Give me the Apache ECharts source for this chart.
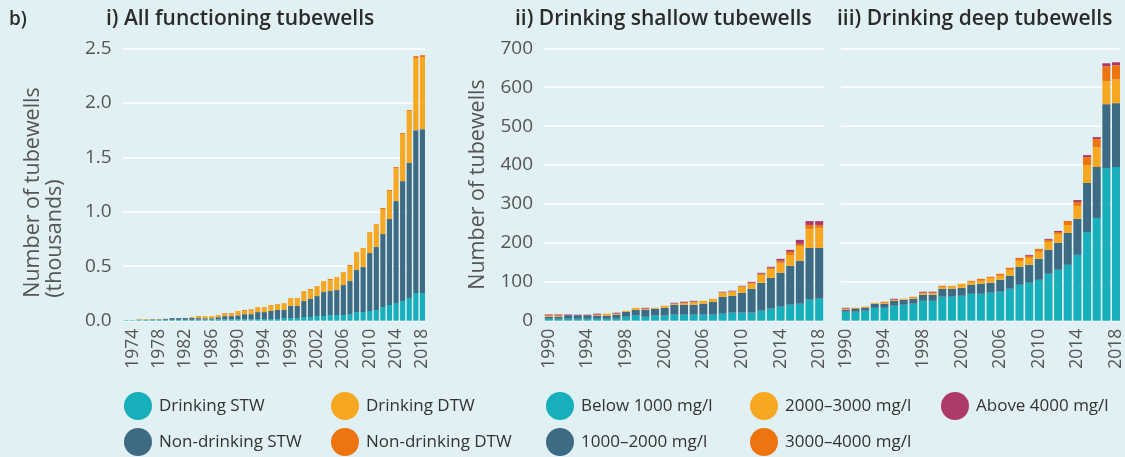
<!DOCTYPE html>
<html>
<head>
<meta charset="utf-8">
<script src="https://cdn.jsdelivr.net/npm/echarts@6/dist/echarts.min.js"></script>
<style>
html,body{margin:0;padding:0;background:#E1F0F3;}
#c{width:1125px;height:457px;}
</style>
</head>
<body>
<div id="c"></div>
<script>
// ---------- DATA ----------
const yearsAll = ['1973','1974','1975','1976','1977','1978','1979','1980','1981','1982','1983','1984','1985','1986','1987','1988','1989','1990','1991','1992','1993','1994','1995','1996','1997','1998','1999','2000','2001','2002','2003','2004','2005','2006','2007','2008','2009','2010','2011','2012','2013','2014','2015','2016','2017','2018'];
// thousands of tubewells
const drinkingSTW    = [0.005,0.005,0.008,0.008,0.008,0.008,0.008,0.008,0.008,0.008,0.008,0.010,0.010,0.010,0.012,0.012,0.012,0.014,0.014,0.014,0.015,0.015,0.015,0.015,0.024,0.024,0.024,0.034,0.034,0.043,0.043,0.052,0.052,0.052,0.061,0.080,0.080,0.089,0.098,0.125,0.144,0.162,0.180,0.208,0.254,0.254];
const nonDrinkingSTW = [0,0,0.002,0.002,0.005,0.005,0.008,0.016,0.016,0.016,0.016,0.014,0.012,0.012,0.020,0.030,0.030,0.035,0.046,0.046,0.064,0.064,0.075,0.083,0.074,0.111,0.111,0.146,0.165,0.183,0.220,0.220,0.229,0.275,0.303,0.385,0.412,0.532,0.578,0.670,0.789,0.936,1.101,1.239,1.495,1.504];
const drinkingDTW    = [0,0,0.005,0.005,0.003,0.003,0.002,0,0,0,0.008,0.012,0.020,0.020,0.020,0.018,0.018,0.040,0.028,0.035,0.046,0.046,0.054,0.055,0.064,0.073,0.073,0.092,0.082,0.092,0.101,0.101,0.119,0.119,0.138,0.165,0.175,0.192,0.211,0.229,0.257,0.303,0.432,0.477,0.661,0.661];
const nonDrinkingDTW = [0,0,0,0,0,0,0,0,0,0,0.002,0.006,0,0,0,0.008,0.008,0,0.009,0.009,0,0,0,0,0,0,0,0,0.009,0,0,0.009,0,0,0.009,0,0,0,0,0.010,0.009,0.009,0.009,0.009,0.018,0.018];

const yearsRecent = ['1990','1991','1992','1993','1994','1995','1996','1997','1998','1999','2000','2001','2002','2003','2004','2005','2006','2007','2008','2009','2010','2011','2012','2013','2014','2015','2016','2017','2018'];
// Drinking shallow tubewells (count) by salinity class
const shallowBelow1000 = [5,5,5,5,5,5,5,5,10,13,10,13,13,15.4,15.4,15.4,15.4,15.4,18,20.5,20.5,20.5,25.6,30.8,36,41,43.6,54,56.4];
const shallow1000_2000 = [5,5,9,9,9,8,8,10.4,13,15,18,17.8,20,25.6,25.6,25.6,28.2,33.3,43.5,43.5,51.3,61.5,71.8,79.2,87,100,110.4,133,130.6];
const shallow2000_3000 = [2,2,0,0,0,2.4,5,2.6,2.6,5,2.8,2.2,5.5,2.6,5,7.7,7.4,7.7,10.3,10.4,15.2,13,20.6,23,25.7,28,38,49,51.5];
const shallow3000_4000 = [2,2,0,0,0,0,0,0,0,0,0,0,0,0.5,0,0,0,0,1,1,1.5,2.5,2.5,3,5.3,8,5.4,10,7.5];
const shallowAbove4000 = [2,2,2,1.5,1.5,2.6,0,2.5,0,0,2.2,0,0,2,2.7,2.3,0,0,1.6,1.6,1.2,2.5,2.5,2.5,5,5,10.3,10,10];
// Drinking deep tubewells (count) by salinity class
const deepBelow1000 = [23,23,25.6,33,33,38.5,41,43.6,51,51,61.5,61.5,64,69,69,71.8,74.4,82,92.3,97.4,105,120.5,130.8,143.6,169.2,228,264,392.3,394.9];
const deep1000_2000 = [5,7.8,7.4,10.6,10.6,12.5,12.8,12.8,15.7,15.7,20.5,20.5,20.6,23,25.9,25.6,30.6,33.4,46.2,46.2,54,61.5,69.2,82,92.3,125.8,130.9,164.1,164.1];
const deep2000_3000 = [2.8,0,1.5,2.4,2.4,2.8,2.6,2.6,5.1,5.1,5,7.7,10.4,8,7.7,12.6,10.4,15.4,15.3,17.9,18,20.6,23,20.4,33.5,46.2,51.1,59,61.5];
const deep3000_4000 = [0,2.2,1.5,0,2.7,0,0,2.5,0,0,2.7,0,0,2.6,5.1,2.8,5.1,5.2,7.7,5.2,7.6,5.1,5,10.4,10,20.5,20.7,38.4,35.9];
const deepAbove4000 = [2.2,0,0,0,0,2.6,0,0,2.6,2.6,0,0,0,0,0,0,0,0,0,2.5,0,2.6,2.8,0,5,5.1,5.1,7.7,7.7];

const leftTicks = [0, 0.5, 1.0, 1.5, 2.0, 2.5];
const countTicks = [0, 100, 200, 300, 400, 500, 600, 700];

// ---------- STYLE ----------
const C = {teal:'#17AFBC', dark:'#3D6B84', yellow:'#F6A823', orange:'#EE7410', magenta:'#AE3A6C'};
const FONT = 'Open Sans';
const labelColor = '#555';

const chart = echarts.init(document.getElementById('c'), null, {renderer:'canvas'});

function xAxis(grid, cats, startYear) {
  return {
    type:'category', gridIndex:grid, data:cats,
    axisLine:{show:false}, axisTick:{show:false},
    axisLabel:{
      rotate:90, fontSize:17.5, color:labelColor, fontFamily:FONT, margin:8,
      interval:(i,v)=> (Number(v)-startYear)%4===0
    }
  };
}
const nameFont = {fontSize:21.5, color:labelColor, fontFamily:FONT, lineHeight:22};
function yAxis(grid, max, interval, showLabels, name, fmt, extraName) {
  return {
    type:'value', gridIndex:grid, min:0, max:max, interval:interval,
    axisLine:{show:false}, axisTick:{show:false},
    splitLine:{show:true, lineStyle:{color:'#ffffff', width:1.6}},
    axisLabel:{show:showLabels, fontSize:19, color:labelColor, fontFamily:FONT, margin:11, formatter:fmt},
    name:name, nameLocation:'middle', nameRotate:90, nameGap: grid===0?57:55,
    nameTextStyle:Object.assign({}, nameFont, extraName || {})
  };
}
function bar(name, grid, stack, data, color, gap) {
  return {
    name:name, type:'bar', stack:stack, xAxisIndex:grid, yAxisIndex:grid,
    data:data, itemStyle:{color:color}, barCategoryGap:gap, animation:false
  };
}
function legendItem(name, left, top) {
  return {orient:'horizontal', icon:'circle', itemWidth:28, itemHeight:28, padding:0, left:left, top:top,
    data:[name], selectedMode:false, textStyle:{fontSize:17, color:'#333', fontFamily:FONT, padding:[0,0,0,2]}};
}
const titleStyle = {fontSize:21, fontWeight:600, color:'#2b2b2b', fontFamily:FONT};

const option = {
  backgroundColor:'#E1F0F3',
  animation:false,
  textStyle:{fontFamily:FONT},
  title:[
    {text:'b)', left:9, top:10, padding:0, textStyle:Object.assign({}, titleStyle, {fontSize:19})},
    {text:'i) All functioning tubewells', left:106, top:9, padding:0, textStyle:titleStyle},
    {text:'ii) Drinking shallow tubewells', left:515, top:9, padding:0, textStyle:titleStyle},
    {text:'iii) Drinking deep tubewells', left:837, top:9, padding:0, textStyle:titleStyle}
  ],
  grid:[
    {left:122.7, top:48.3, width:303, height:272.4},
    {left:544, top:48.3, width:280, height:272.4},
    {left:841, top:48.3, width:280, height:272.4}
  ],
  xAxis:[ xAxis(0, yearsAll, 1974), xAxis(1, yearsRecent, 1990), xAxis(2, yearsRecent, 1990) ],
  yAxis:[
    yAxis(0, leftTicks[leftTicks.length-1], leftTicks[1]-leftTicks[0], true,
      '{a|Number of tubewells}\n{a|(thousands)}', v=>v.toFixed(1),
      {padding:[0,16,0,0], rich:{a:Object.assign({align:'left'}, nameFont)}}),
    yAxis(1, countTicks[countTicks.length-1], countTicks[1]-countTicks[0], true, 'Number of tubewells', v=>String(v)),
    yAxis(2, countTicks[countTicks.length-1], countTicks[1]-countTicks[0], false, '', v=>String(v))
  ],
  legend:[
    legendItem('Drinking STW', 124, 392),
    legendItem('Non-drinking STW', 124, 428),
    legendItem('Drinking DTW', 331, 392),
    legendItem('Non-drinking DTW', 331, 428),
    legendItem('Below 1000 mg/l', 546, 392),
    legendItem('1000–2000 mg/l', 546, 428),
    legendItem('2000–3000 mg/l', 750, 392),
    legendItem('3000–4000 mg/l', 750, 428),
    legendItem('Above 4000 mg/l', 941, 392)
  ],
  series:[
    bar('Drinking STW', 0, 'a', drinkingSTW, C.teal, '22%'),
    bar('Non-drinking STW', 0, 'a', nonDrinkingSTW, C.dark, '22%'),
    bar('Drinking DTW', 0, 'a', drinkingDTW, C.yellow, '22%'),
    bar('Non-drinking DTW', 0, 'a', nonDrinkingDTW, C.orange, '22%'),

    bar('Below 1000 mg/l', 1, 's', shallowBelow1000, C.teal, '17%'),
    bar('1000–2000 mg/l', 1, 's', shallow1000_2000, C.dark, '17%'),
    bar('2000–3000 mg/l', 1, 's', shallow2000_3000, C.yellow, '17%'),
    bar('3000–4000 mg/l', 1, 's', shallow3000_4000, C.orange, '17%'),
    bar('Above 4000 mg/l', 1, 's', shallowAbove4000, C.magenta, '17%'),

    bar('Below 1000 mg/l', 2, 'd', deepBelow1000, C.teal, '17%'),
    bar('1000–2000 mg/l', 2, 'd', deep1000_2000, C.dark, '17%'),
    bar('2000–3000 mg/l', 2, 'd', deep2000_3000, C.yellow, '17%'),
    bar('3000–4000 mg/l', 2, 'd', deep3000_4000, C.orange, '17%'),
    bar('Above 4000 mg/l', 2, 'd', deepAbove4000, C.magenta, '17%')
  ]
};
chart.setOption(option);
</script>
</body>
</html>
